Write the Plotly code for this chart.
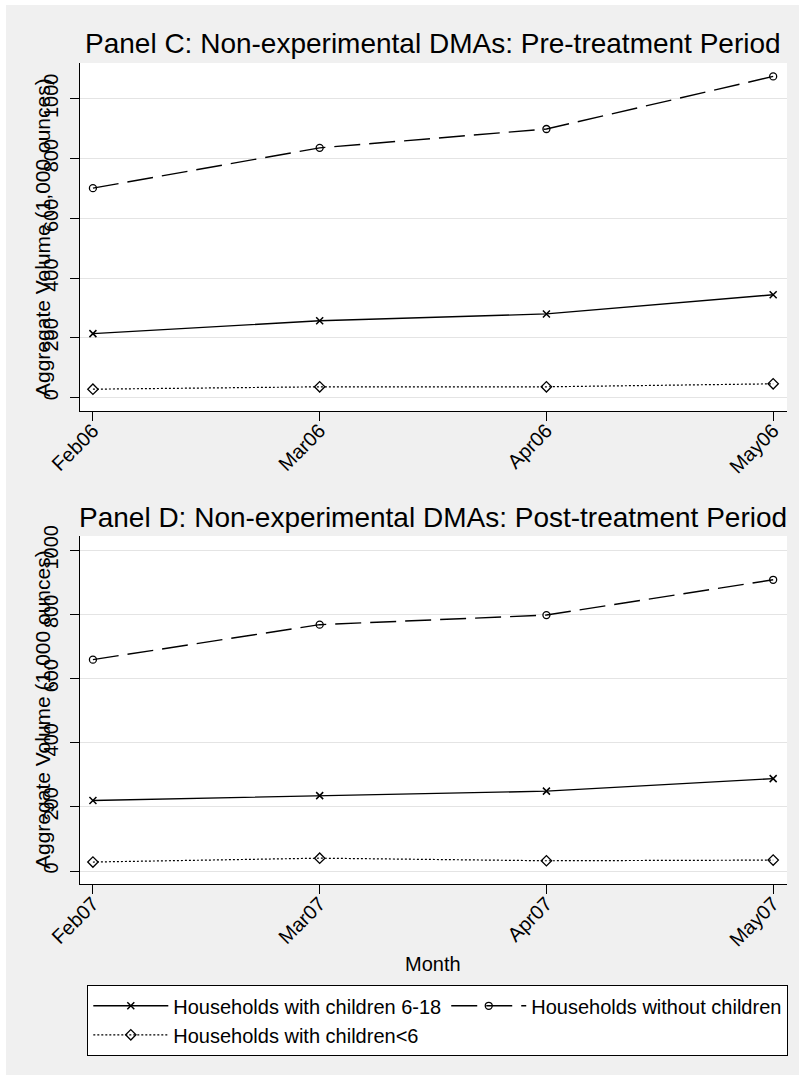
import plotly.graph_objects as go

W, H = 799, 1075

months_pre = ["Feb06", "Mar06", "Apr06", "May06"]
months_post = ["Feb07", "Mar07", "Apr07", "May07"]

pre_kids_6_18 = [214, 257, 280, 344]
pre_no_kids = [701, 836, 899, 1075]
pre_kids_lt6 = [28, 36, 36, 46]

post_kids_6_18 = [220, 235, 249, 288]
post_no_kids = [659, 768, 798, 908]
post_kids_lt6 = [28, 40, 32, 34]

series_names = ["Households with children 6-18",
                "Households without children",
                "Households with children<6"]
y_ticks = [0, 200, 400, 600, 800, 1000]

FONT = "Liberation Sans, Arial, sans-serif"
BG = "#f0f0f0"
GRID = "#e4e4e4"

styles = [
    dict(line=dict(color="black", width=1.4, dash="solid"),
         marker=dict(symbol="x-thin-open", size=7, line=dict(color="black", width=1.5))),
    dict(line=dict(color="black", width=1.4, dash="26px,9px"),
         marker=dict(symbol="circle-open", size=7, color="black", line=dict(color="black", width=1.3))),
    dict(line=dict(color="black", width=1.2, dash="2px,2px"),
         marker=dict(symbol="diamond-open", size=8, color="black", line=dict(color="black", width=1.3))),
]

fig = go.Figure()
for months, vals, xa, ya, show in [
    (months_pre, [pre_kids_6_18, pre_no_kids, pre_kids_lt6], "x", "y", True),
    (months_post, [post_kids_6_18, post_no_kids, post_kids_lt6], "x2", "y2", False),
]:
    for name, v, st in zip(series_names, vals, styles):
        fig.add_trace(go.Scatter(x=months, y=v, mode="lines+markers", name=name,
                                 line=st["line"], marker=st["marker"],
                                 xaxis=xa, yaxis=ya, showlegend=show))

def px_x(p):
    return p / W

def px_y(p):
    return 1 - p / H

xdom = [px_x(80), px_x(787)]
ax_common = dict(showline=True, linecolor="black", linewidth=1.3, mirror=False,
                 ticks="outside", ticklen=9, tickwidth=1.2, tickcolor="black",
                 zeroline=False, automargin=False,
                 tickfont=dict(family=FONT, size=20, color="black"))

fig.update_layout(
    width=W, height=H, autosize=False,
    margin=dict(l=0, r=0, t=0, b=0, pad=0, autoexpand=False),
    paper_bgcolor=BG, plot_bgcolor="white",
    font=dict(family=FONT, color="black"),
    xaxis=dict(domain=xdom, anchor="y", type="category", range=[-0.057, 3.061],
               tickangle=-45, ticklabelstandoff=-10, showgrid=False, **ax_common),
    yaxis=dict(domain=[px_y(411), px_y(63)], anchor="x", range=[-45, 1120],
               tickvals=y_ticks, tickangle=-90, ticklabelstandoff=4,
               showgrid=True, gridcolor=GRID, gridwidth=1.2, **ax_common),
    xaxis2=dict(domain=xdom, anchor="y2", type="category", range=[-0.057, 3.061],
                tickangle=-45, ticklabelstandoff=-10, showgrid=False, **ax_common),
    yaxis2=dict(domain=[px_y(884), px_y(536)], anchor="x2", range=[-40.5, 1044.5],
                tickvals=y_ticks, tickangle=-90, ticklabelstandoff=4,
                showgrid=True, gridcolor=GRID, gridwidth=1.2, **ax_common),
    legend=dict(orientation="h", x=px_x(87), y=px_y(985), xanchor="left", yanchor="top",
                bgcolor="white", bordercolor="black", borderwidth=1.3,
                font=dict(family=FONT, size=20, color="black"), itemwidth=75,
                tracegroupgap=0),
    showlegend=True,
)

# white page edge at top and left
fig.add_shape(type="rect", xref="paper", yref="paper", x0=0, x1=px_x(6), y0=0, y1=1,
              fillcolor="white", line_width=0, layer="below")
fig.add_shape(type="rect", xref="paper", yref="paper", x0=0, x1=1, y0=px_y(5), y1=1,
              fillcolor="white", line_width=0, layer="below")

ann = [
    dict(text="Panel C: Non-experimental DMAs: Pre-treatment Period", x=px_x(433.5), y=px_y(43),
         size=28, angle=0),
    dict(text="Panel D: Non-experimental DMAs: Post-treatment Period", x=px_x(433.5), y=px_y(517),
         size=28, angle=0),
    dict(text="Aggregate Volume (1,000 ounces)", x=px_x(42), y=px_y(238), size=21, angle=-90),
    dict(text="Aggregate Volume (1,000 ounces)", x=px_x(42), y=px_y(710), size=21, angle=-90),
    dict(text="Month", x=px_x(433.5), y=px_y(964), size=20, angle=0),
]
for a in ann:
    fig.add_annotation(text=a["text"], x=a["x"], y=a["y"], xref="paper", yref="paper",
                       xanchor="center", yanchor="middle", showarrow=False, textangle=a["angle"],
                       font=dict(family=FONT, size=a["size"], color="black"))

fig.write_html("out.html", config={"displayModeBar": False},
               post_script="document.body.style.margin='0px';")
